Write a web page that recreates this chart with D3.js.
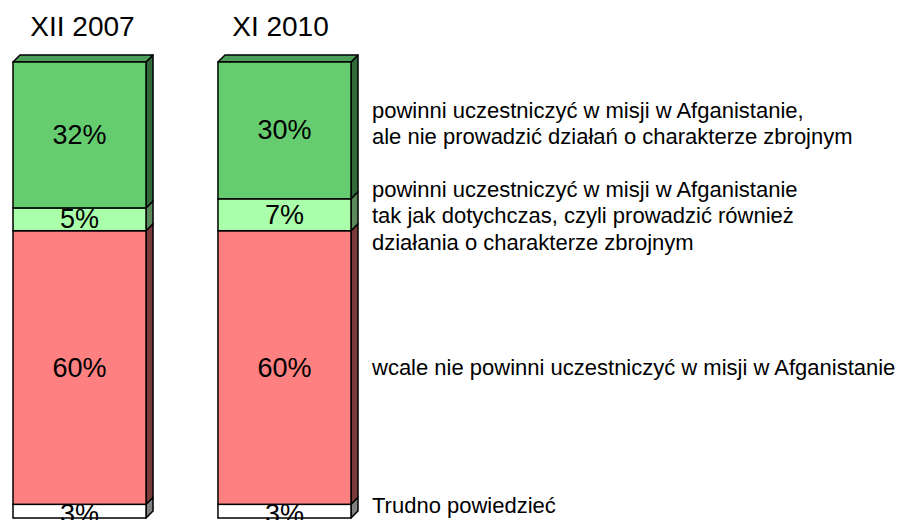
<!DOCTYPE html>
<html>
<head>
<meta charset="utf-8">
<script src="https://d3js.org/d3.v7.min.js"></script>
<style>
  body { margin: 0; background: #fff; }
  text { font-family: "Liberation Sans", Arial, sans-serif; fill: #000; }
</style>
</head>
<body>
<svg width="903" height="520"></svg>
<script>
// data
const periods = ["XII 2007", "XI 2010"];
const series = ["armed", "continue", "none", "dontknow"];
const armedVals = [32, 30];
const continueVals = [5, 7];
const noneVals = [60, 60];
const dontKnowVals = [3, 3];
const legendLines = [
  ["powinni uczestniczyć w misji w Afganistanie,", "ale nie prowadzić działań o charakterze zbrojnym"],
  ["powinni uczestniczyć w misji w Afganistanie", "tak jak dotychczas, czyli prowadzić również", "działania o charakterze zbrojnym"],
  ["wcale nie powinni uczestniczyć w misji w Afganistanie"],
  ["Trudno powiedzieć"]
];

const svg = d3.select("svg");
const depth = 7;

const fills = { armed: "#66cc70", continue: "#aaffaa", none: "#ff8080", dontknow: "#ffffff" };
const tops  = { armed: "#4c9e58", continue: "#80c080", none: "#c06060", dontknow: "#c0c0c0" };
const sides = { armed: "#2f6a38", continue: "#5a8a5a", none: "#7a3a3a", dontknow: "#808080" };

const valuesBySeries = { armed: armedVals, continue: continueVals, none: noneVals, dontknow: dontKnowVals };

const data = periods.map((p, i) => {
  const row = { period: p };
  series.forEach(s => row[s] = valuesBySeries[s][i]);
  return row;
});

const stack = d3.stack().keys(series.slice().reverse());
const layers = stack(data);

const x = d3.scaleBand().domain(periods).range([13, 351]).paddingInner(0.351);
const y = d3.scaleLinear().domain([0, 100]).range([518, 62]);

// category titles
svg.selectAll(".cat")
  .data(periods)
  .join("text")
  .attr("class", "cat")
  .attr("x", (d, i) => x(d) + x.bandwidth() / 2 + (i === 0 ? 3 : -4))
  .attr("y", 26)
  .attr("text-anchor", "middle")
  .attr("dominant-baseline", "central")
  .style("font-size", "28px")
  .text(d => d);

const g = svg.append("g");

layers.forEach(layer => {
  const key = layer.key;
  layer.forEach((d, i) => {
    const x0 = x(periods[i]);
    const w = x.bandwidth();
    const yt = y(d[1]);
    const yb = y(d[0]);
    // side face
    g.append("path")
      .attr("d", `M${x0 + w},${yt} L${x0 + w + depth},${yt - depth} L${x0 + w + depth},${yb - depth} L${x0 + w},${yb} Z`)
      .attr("fill", sides[key])
      .attr("stroke", "#000")
      .attr("stroke-width", 1.5)
      .attr("stroke-linejoin", "round");
    // top face only on the top segment
    if (d[1] === 100) {
      g.append("path")
        .attr("d", `M${x0},${yt} L${x0 + depth},${yt - depth} L${x0 + w + depth},${yt - depth} L${x0 + w},${yt} Z`)
        .attr("fill", tops[key])
        .attr("stroke", "#000")
        .attr("stroke-width", 1.5)
        .attr("stroke-linejoin", "round");
    }
    // front face
    g.append("rect")
      .attr("x", x0)
      .attr("y", yt)
      .attr("width", w)
      .attr("height", yb - yt)
      .attr("fill", fills[key])
      .attr("stroke", "#000")
      .attr("stroke-width", 1.5);
  });
});

// value labels
layers.forEach(layer => {
  layer.forEach((d, i) => {
    svg.append("text")
      .attr("x", x(periods[i]) + x.bandwidth() / 2)
      .attr("y", (y(d[0]) + y(d[1])) / 2 + (layer.key === "dontknow" ? 3 : 0))
      .attr("text-anchor", "middle")
      .attr("dominant-baseline", "central")
      .style("font-size", "27px")
      .text((d[1] - d[0]) + "%");
  });
});

// legend texts
const legendY = [110, 189, 367, 505];
const lineH = 26.5;
legendLines.forEach((lines, k) => {
  lines.forEach((t, j) => {
    svg.append("text")
      .attr("x", 372)
      .attr("y", legendY[k] + j * lineH)
      .attr("dominant-baseline", "central")
      .style("font-size", "22px")
      .text(t);
  });
});
</script>
</body>
</html>
